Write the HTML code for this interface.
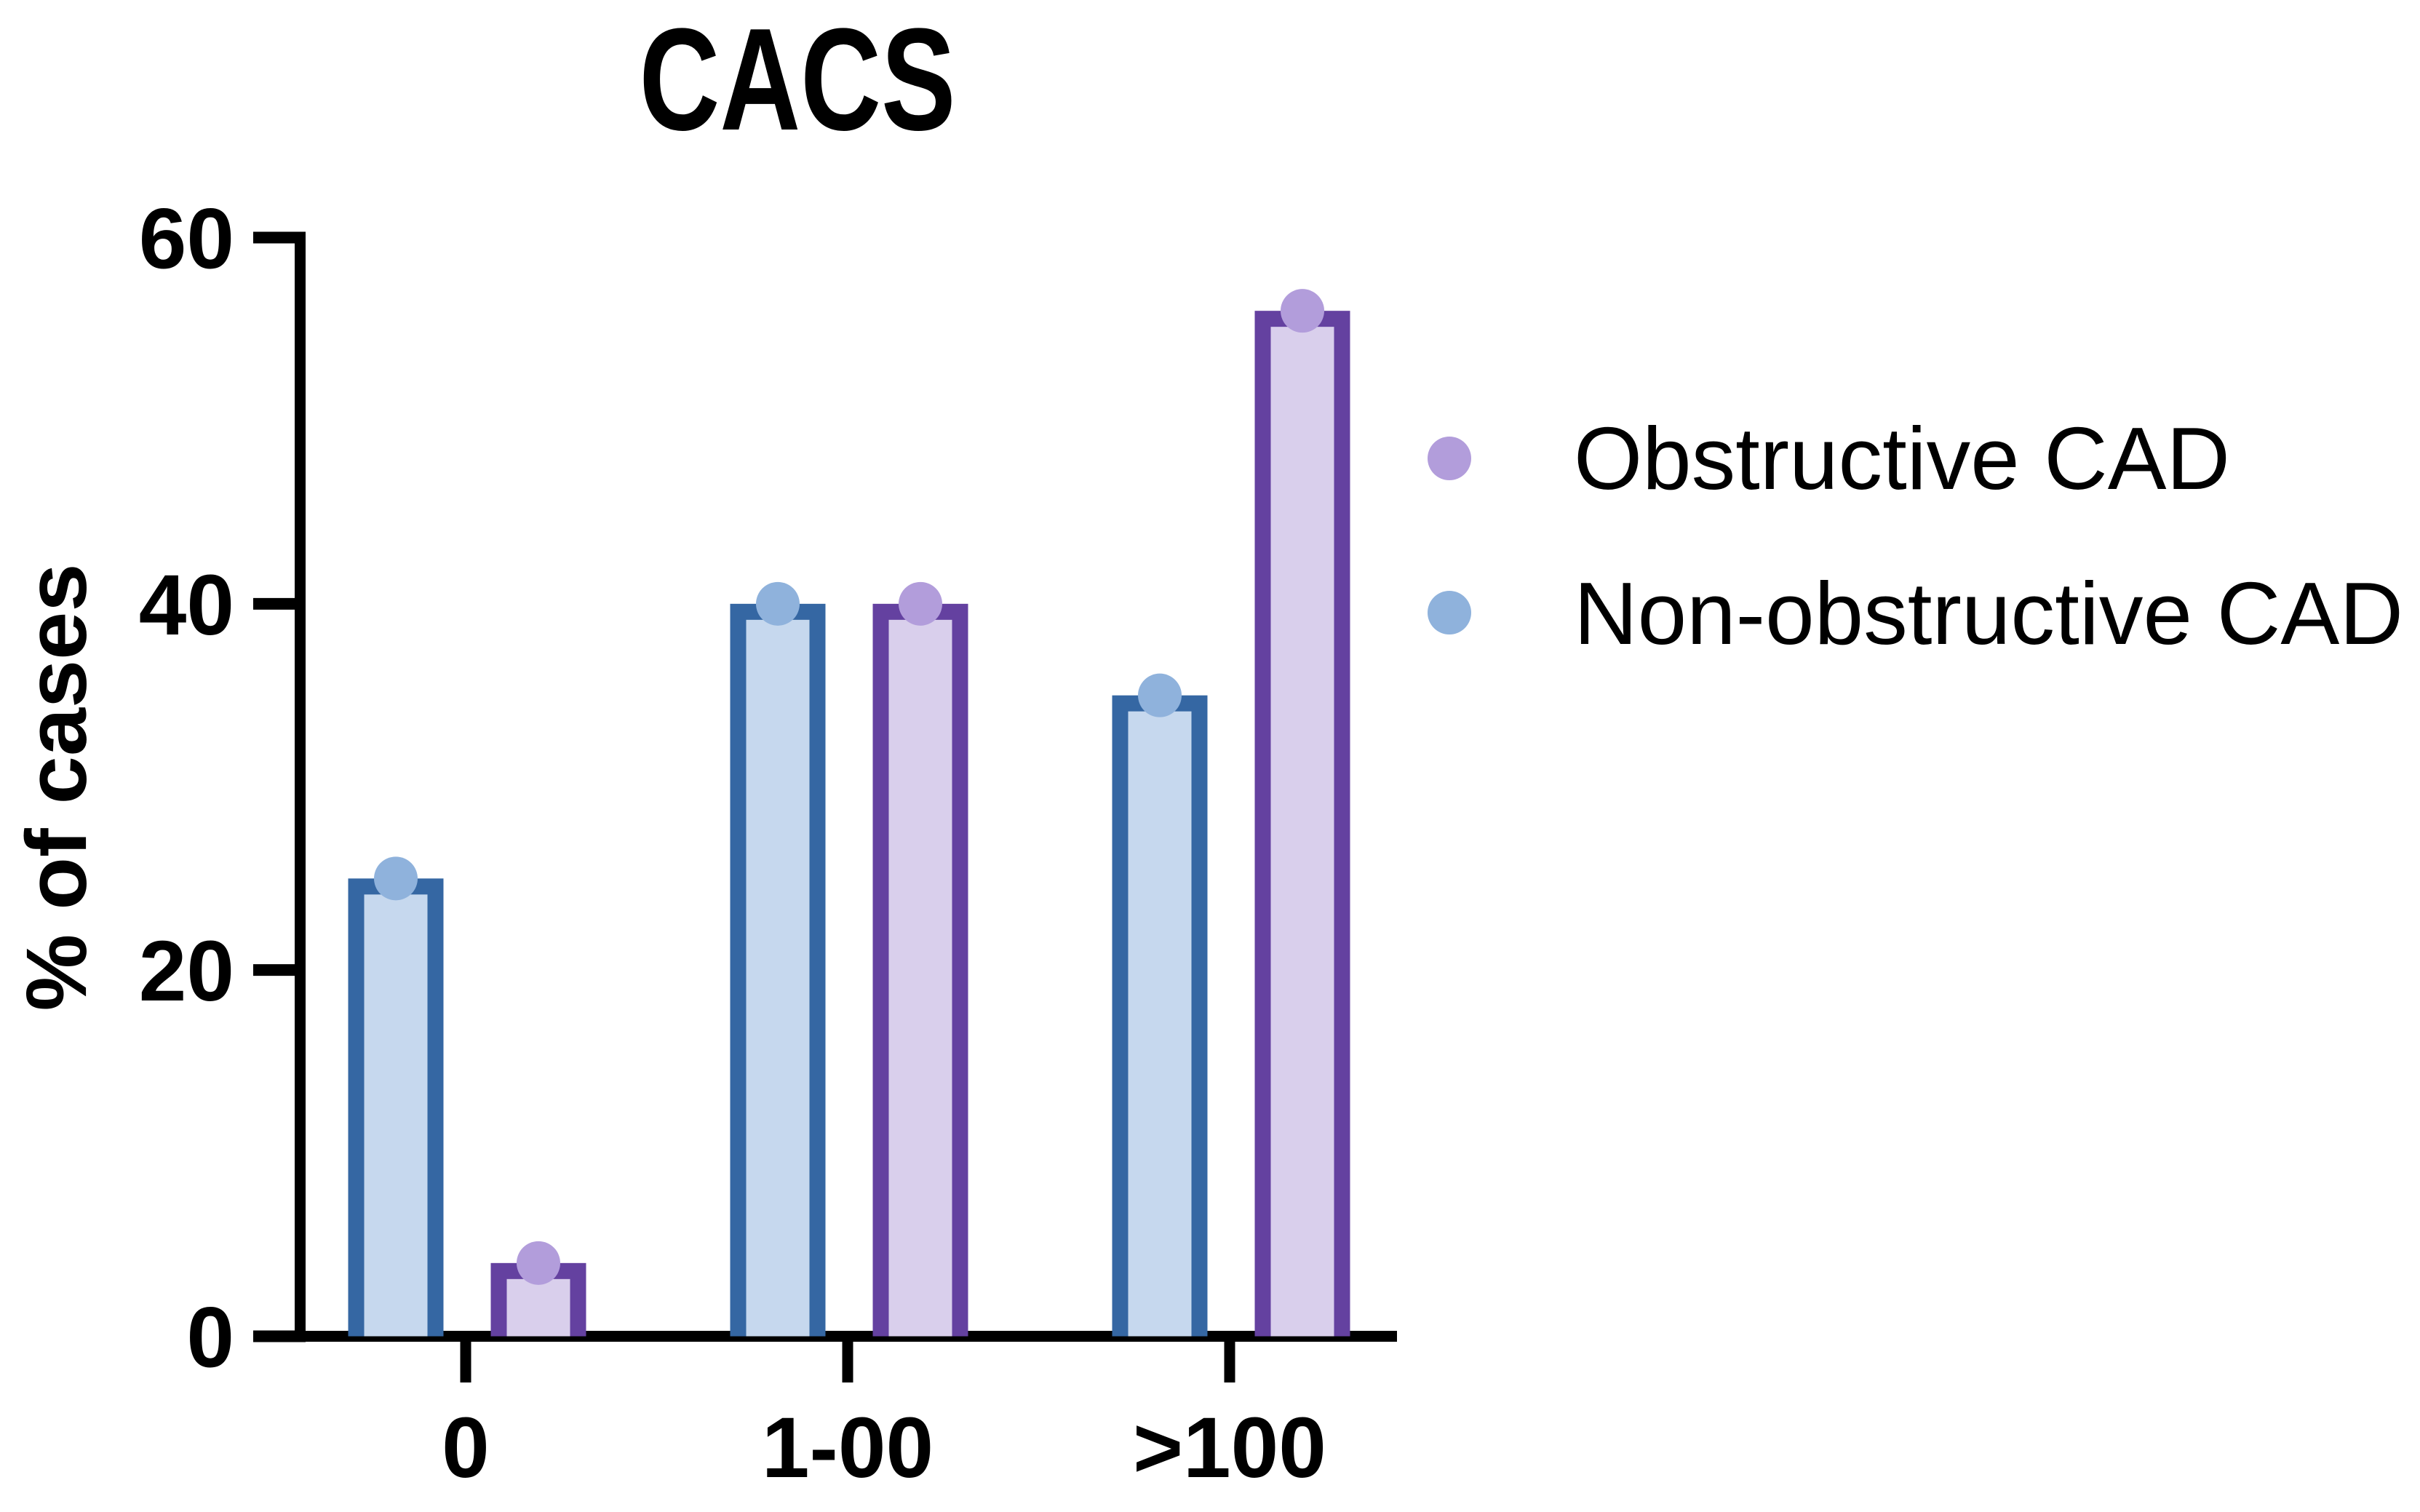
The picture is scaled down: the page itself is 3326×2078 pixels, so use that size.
<!DOCTYPE html>
<html><head><meta charset="utf-8"><style>
html,body{margin:0;padding:0;background:#fff;}
svg{display:block;}
text{font-family:"Liberation Sans",Arial,sans-serif;}
</style></head><body>
<svg id="chart" width="3326" height="2078" viewBox="0 0 3326 2078" xmlns="http://www.w3.org/2000/svg">
<text x="1096" y="178" text-anchor="middle" font-size="200" font-weight="bold" textLength="435" lengthAdjust="spacingAndGlyphs">CACS</text>
<text transform="translate(118,1082) rotate(-90)" text-anchor="middle" font-size="118" font-weight="bold" textLength="615" lengthAdjust="spacingAndGlyphs">% of cases</text>
<g id="yaxis"></g>
<g id="xaxis"></g>
<g id="bars"></g>
<g id="legend">
<g>
<circle cx="1992" cy="630" r="30" fill="#b29ddb"/>
<text x="2163" y="672" font-size="122" textLength="902" lengthAdjust="spacingAndGlyphs">Obstructive CAD</text>
</g>
<g>
<circle cx="1992" cy="842" r="30" fill="#8fb2dc"/>
<text x="2163" y="885" font-size="122" textLength="1140" lengthAdjust="spacingAndGlyphs">Non-obstructive CAD</text>
</g>
</g>
</svg>
<script>
const categories = ["0", "1-00", ">100"];
const nonObstructive = [25, 40, 35];
const obstructive = [4, 40, 56];
const yTicks = [0, 20, 40, 60];

const NS = "http://www.w3.org/2000/svg";
const y0 = 1836.5, y60 = 326.5;
function yScale(v){ return y0 - (v / 60) * (y0 - y60); }
function xScale(i){ return 640 + i * 525; }
function mk(tag, attrs, parent){
  const e = document.createElementNS(NS, tag);
  for (const k in attrs) e.setAttribute(k, attrs[k]);
  parent.appendChild(e);
  return e;
}
const ya = document.getElementById('yaxis');
const xa = document.getElementById('xaxis');
const bars = document.getElementById('bars');

const axisV = mk('line', {x1:412.5, y1:yScale(60)-8, x2:412.5, y2:y0+7.5, stroke:'#000','stroke-width':15}, ya);


yTicks.forEach(t => {
  const l = mk('line', {x1:348, y1:yScale(t), x2:420, y2:yScale(t), stroke:'#000','stroke-width':16}, ya);
  
  
  const tx = mk('text', {x:322, y:yScale(t)+42, 'text-anchor':'end','font-size':118,'font-weight':'bold'}, ya);
  tx.textContent = t;
  
  
});
const axisH = mk('line', {x1:348, y1:y0, x2:1920, y2:y0, stroke:'#000','stroke-width':15}, xa);



const W = 131, B = 22;
function drawBar(cx, v, stroke, fill, dot, name){
  const top = yScale(v);
  const g = mk('g', {}, bars);
  
  
  mk('rect', {x:cx-W/2, y:top, width:W, height:y0-top, fill:stroke}, g);
  mk('rect', {x:cx-W/2+B, y:top+B, width:W-2*B, height:Math.max(0,y0-top-B), fill:fill}, g);
  mk('circle', {cx:cx, cy:top, r:30, fill:dot}, g);
}
categories.forEach((c, i) => {
  const gx = xScale(i);
  const tk = mk('line', {x1:gx, y1:y0, x2:gx, y2:1900, stroke:'#000','stroke-width':15}, xa);
  
  
  const tl = mk('text', {x:gx, y:2030, 'text-anchor':'middle','font-size':118,'font-weight':'bold'}, xa);
  tl.textContent = c;
  
  
  drawBar(gx-96, nonObstructive[i], '#3567a3', '#c6d8ee', '#8fb2dc', 'bar-non-obstructive');
  drawBar(gx+100, obstructive[i], '#6441a0', '#d9cfec', '#b29ddb', 'bar-obstructive');
});
</script>
</body></html>
